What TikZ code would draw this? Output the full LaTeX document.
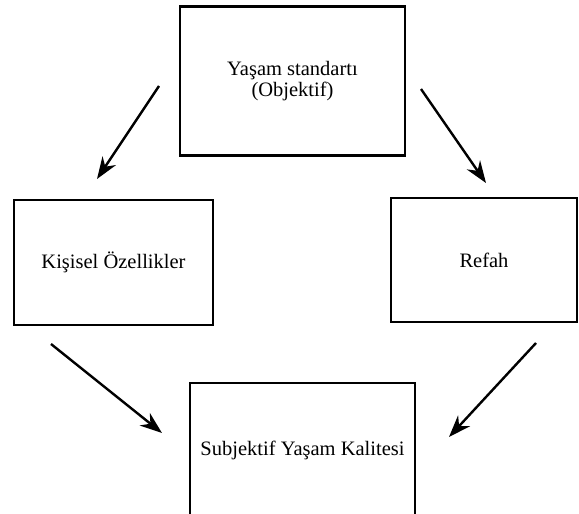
\documentclass[tikz,border=0pt]{standalone}
\usepackage{fontspec}
\setmainfont{Liberation Serif}
\usetikzlibrary{arrows.meta}

\begin{document}
\begin{tikzpicture}[x=1pt, y=-1pt,
    every node/.style={font=\fontsize{20.5}{21}\selectfont},
    box/.style={draw, line width=2.6pt, inner sep=0pt, align=center},
    arr/.style={-{Stealth[length=22pt, width=16pt]}, line width=2.4pt}]
    \useasboundingbox (0,0) rectangle (579,514);
    \clip (0,0) rectangle (579,514);
    % Objective standard of living
    \node[box, minimum width=225pt, minimum height=149pt] (obj) at (292.5,81) {Yaşam standartı\\(Objektif)};
    % Personal traits and welfare
    \node[box, minimum width=199pt, minimum height=125pt] (kis) at (113.5,262.5) {Kişisel Özellikler};
    \node[box, minimum width=186pt, minimum height=124pt] (ref) at (484,260) {Refah};
    % Subjective quality of life, cut at the bottom
    \node[box, minimum width=225pt, minimum height=134pt] (sub) at (302.5,450) {Subjektif Yaşam Kalitesi};
    % Arrow ends
    \coordinate (objl) at (159,86);
    \coordinate (kisin) at (97,179);
    \coordinate (objr) at (421,89);
    \coordinate (refin) at (486,183);
    \coordinate (kisout) at (51,344);
    \coordinate (subl) at (162,433);
    \coordinate (refout) at (536,343);
    \coordinate (subr) at (449,437);
    \draw[arr] (objl) -- (kisin);
    \draw[arr] (objr) -- (refin);
    \draw[arr] (kisout) -- (subl);
    \draw[arr] (refout) -- (subr);
\end{tikzpicture}
\end{document}
